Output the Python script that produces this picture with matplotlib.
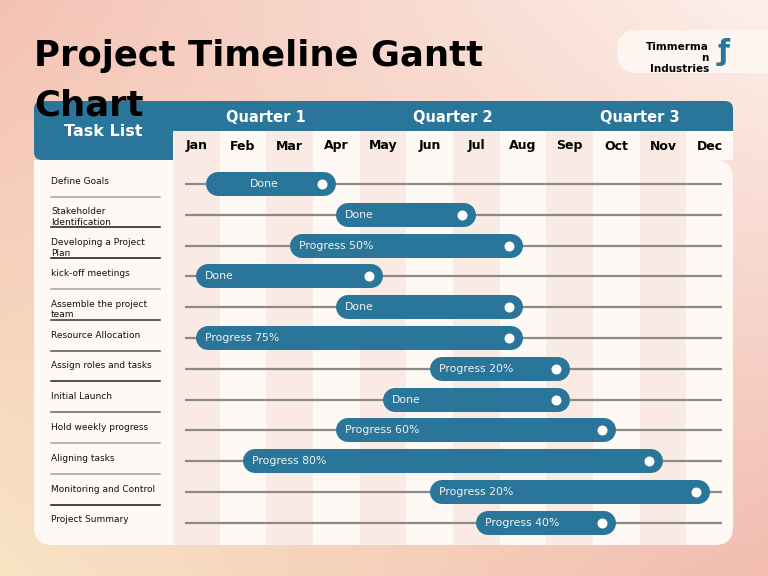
import numpy as np
import matplotlib
matplotlib.use("Agg")
import matplotlib.pyplot as plt
from matplotlib.patches import FancyBboxPatch, Rectangle

# Data
months = ["Jan", "Feb", "Mar", "Apr", "May", "Jun",
          "Jul", "Aug", "Sep", "Oct", "Nov", "Dec"]
quarters = ["Quarter 1", "Quarter 2", "Quarter 3"]
tasks = ["Define Goals", "Stakeholder\nIdentification",
         "Developing a Project\nPlan", "kick-off meetings",
         "Assemble the project\nteam", "Resource Allocation",
         "Assign roles and tasks", "Initial Launch",
         "Hold weekly progress", "Aligning tasks",
         "Monitoring and Control", "Project Summary"]
starts = [0.2, 3, 2, 0, 3, 0, 5, 4, 3, 1, 5, 6]
ends = [3, 6, 7, 4, 7, 7, 8, 8, 9, 10, 11, 9]
status = ["Done", "Done", "Progress 50%", "Done", "Done", "Progress 75%",
          "Progress 20%", "Done", "Progress 60%", "Progress 80%",
          "Progress 20%", "Progress 40%"]
title_lines = ["Project Timeline Gantt", "Chart"]

BLUE = "#2a759a"
PANEL = "#fef9f4"
STRIPE = "#f9ebe3"
W, H = 768, 576

# row geometry (pixels)
ROW0, PITCH = 184, 30.8


def px_to_row(py):
    return (py - ROW0) / PITCH


fig = plt.figure(figsize=(7.68, 5.76), dpi=100)

# Background gradient + decorations in pixel coordinates
bg = fig.add_axes([0, 0, 1, 1])
bg.set_xlim(0, W)
bg.set_ylim(H, 0)
bg.axis("off")
tl = np.array([244, 194, 180]) / 255
tr = np.array([253, 240, 234]) / 255
bl = np.array([249, 228, 196]) / 255
br = np.array([242, 188, 176]) / 255
u = np.linspace(0, 1, 200)[None, :, None]
v = np.linspace(0, 1, 150)[:, None, None]
grad = (1 - v) * ((1 - u) * tl + u * tr) + v * ((1 - u) * bl + u * br)
bg.imshow(grad, extent=(0, W, H, 0), aspect="auto", zorder=0)

# main panel
bg.add_patch(FancyBboxPatch((34, 160), 699, 385,
                            boxstyle="round,pad=0,rounding_size=18",
                            fc=PANEL, ec="none", zorder=1))
bg.add_patch(Rectangle((34, 160), 60, 40, fc=PANEL, ec="none", zorder=1))
# blue header
bg.add_patch(FancyBboxPatch((34, 101), 699, 59,
                            boxstyle="round,pad=0,rounding_size=8",
                            fc=BLUE, ec="none", zorder=2))
bg.text(103, 132, "Task List", color="white", fontsize=11.5,
        fontweight="bold", ha="center", va="center", zorder=3)

# title (two separate lines, second one overlaps the header)
for k, line in enumerate(title_lines):
    bg.text(34, 66 + 50 * k, line, fontsize=25.5, fontweight="bold",
            color="black", ha="left", va="baseline", zorder=6)

# logo
bg.add_patch(FancyBboxPatch((617, 30), 200, 43,
                            boxstyle="round,pad=0,rounding_size=20",
                            fc="#fdf5ef", ec="none", zorder=2))
bg.text(709, 58, "Timmerma\nn\nIndustries", fontsize=7.5, fontweight="bold",
        ha="right", va="center", multialignment="right", linespacing=1.1,
        zorder=3)
bg.text(724, 52, "ƒ", fontsize=20, fontweight="bold", color=BLUE,
        ha="center", va="center", zorder=3)

# Gantt axes
ax = fig.add_axes([173 / W, 1 - 545 / H, 560 / W, 444 / H])
ax.set_xlim(-0.5, 11.5)
ax.set_ylim(px_to_row(545), px_to_row(101))
ax.axis("off")
ax.patch.set_alpha(0)

head_top, head_bot, body_bot = px_to_row(131), px_to_row(160), px_to_row(545)
for i, m in enumerate(months):
    col = STRIPE if i % 2 == 0 else PANEL
    bottom = body_bot if i < 11 else head_bot
    ax.fill_between([i - 0.5, i + 0.5], bottom, head_top, color=col,
                    lw=0, zorder=1)
    ax.text(i, px_to_row(146), m, fontsize=9, fontweight="bold",
            ha="center", va="center", zorder=3)

for q, name in enumerate(quarters):
    ax.text(q * 4 + 1.5, px_to_row(117), name, color="white", fontsize=10.5,
            fontweight="bold", ha="center", va="center", zorder=3)

cap = 12 / (560 / 12)  # bar end radius in months
for i in range(len(tasks)):
    ax.plot([-0.24, 11.27], [i, i], color="#8a8a8a", lw=1.6,
            solid_capstyle="butt", zorder=2)
    ax.plot([starts[i] + cap, ends[i] - cap], [i, i], color=BLUE,
            lw=17.3, solid_capstyle="round", zorder=3)
    ax.plot(ends[i] - 0.3, i, "o", color="white", ms=7.2, mec="none",
            zorder=4)
    if i == 0:
        ax.text((starts[i] + ends[i] - 0.3) / 2, i, status[i], color="#f2f2f2",
                fontsize=7.8, ha="center", va="center", zorder=5)
    else:
        ax.text(starts[i] + 0.19, i, status[i], color="#f2f2f2",
                fontsize=7.8, ha="left", va="center", zorder=5)

# Task list axes
lx = fig.add_axes([34 / W, 1 - 545 / H, 139 / W, 385 / H])
lx.set_xlim(0, 139)
lx.set_ylim(px_to_row(545), px_to_row(160))
lx.axis("off")
lx.patch.set_alpha(0)
sep_colors = ["#a8a29e", "#1a1a1a", "#111111", "#a8a29e", "#333333",
              "#555555", "#222222", "#666666", "#a8a29e", "#a8a29e",
              "#111111"]
for i, t in enumerate(tasks):
    lx.text(17, i - 0.24, t, fontsize=6.5, ha="left", va="top",
            color="#111111")
    if i < len(sep_colors):
        lx.plot([17, 126], [i + 0.41, i + 0.41], color=sep_colors[i],
                lw=1.1, zorder=1)

fig.savefig("out.png", dpi=100)
